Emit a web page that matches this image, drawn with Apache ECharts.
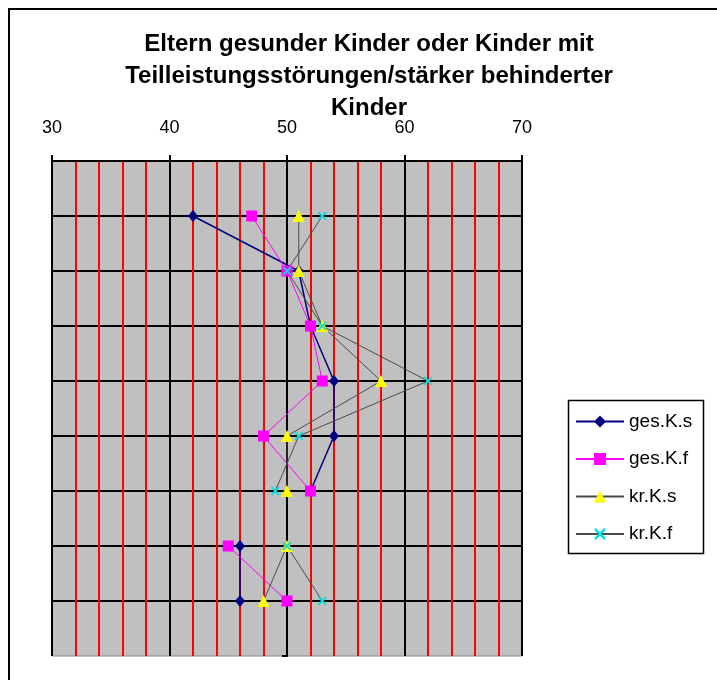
<!DOCTYPE html>
<html>
<head>
<meta charset="utf-8">
<script src="https://cdn.jsdelivr.net/npm/echarts@6/dist/echarts.min.js"></script>
<style>
  html, body { margin: 0; padding: 0; background: #fff; }
  #chart { width: 717px; height: 680px; }
</style>
</head>
<body>
<div id="chart"></div>
<script>
// Rows (top to bottom) and the score of each group per row
const rows = [1, 2, 3, 4, 5, 6, 7, 8];
const gapAfterRow = 6;           // the lines are interrupted between row 6 and row 7
const gesKs = [42, 51, 52, 54, 54, 52, 46, 46];
const gesKf = [47, 50, 52, 53, 48, 52, 45, 50];
const krKs  = [51, 51, 53, 58, 50, 50, 50, 48];
const krKf  = [53, 50, 53, 62, 51, 49, 50, 53];
const seriesNames = ['ges.K.s', 'ges.K.f', 'kr.K.s', 'kr.K.f'];
const xTicks = { min: 30, max: 70, step: 10 };

const titleText = 'Eltern gesunder Kinder oder Kinder mit\nTeilleistungsstörungen/stärker behinderter\nKinder';

function toPoints(values) {
  const pts = [];
  values.forEach((v, i) => {
    pts.push([v, rows[i]]);
    if (rows[i] === gapAfterRow) pts.push(['-', '-']);
  });
  return pts;
}

// thin "x" marker
const crossPath = 'path://M0,1.4L1.4,0L5,3.6L8.6,0L10,1.4L6.4,5L10,8.6L8.6,10L5,6.4L1.4,10L0,8.6L3.6,5Z';

function lineSeries(name, values, lineColor, lineWidth, symbol, symbolSize, markColor) {
  return {
    name: name,
    type: 'line',
    data: toPoints(values),
    connectNulls: false,
    symbol: symbol,
    symbolSize: symbolSize,
    showAllSymbol: true,
    lineStyle: { color: lineColor, width: lineWidth },
    itemStyle: { color: markColor, borderWidth: 0 },
    emphasis: { disabled: true },
    z: 3
  };
}

const chart = echarts.init(document.getElementById('chart'), null, { renderer: 'canvas' });

chart.setOption({
  animation: false,
  backgroundColor: '#ffffff',
  title: {
    text: titleText,
    left: 364,
    top: 23,
    textAlign: 'center',
    textStyle: {
      fontFamily: '"Liberation Sans", Arial, sans-serif',
      fontWeight: 'bold',
      fontSize: 24,
      lineHeight: 32,
      color: '#000'
    }
  },
  grid: {
    left: 52, right: 195, top: 161, bottom: 24,
    show: true,
    backgroundColor: '#c0c0c0',
    borderColor: '#8a8a8a',
    borderWidth: 1
  },
  legend: {
    orient: 'vertical',
    left: 575,
    top: 412,
    padding: 0,
    itemWidth: 48,
    itemHeight: 15,
    itemGap: 18.5,
    itemStyle: { borderWidth: 0 },
    data: seriesNames,
    textStyle: {
      fontFamily: '"Liberation Sans", Arial, sans-serif',
      fontSize: 19,
      lineHeight: 19,
      color: '#000'
    }
  },
  xAxis: {
    type: 'value',
    position: 'top',
    min: xTicks.min,
    max: xTicks.max,
    interval: xTicks.step,
    axisLine: { show: true, lineStyle: { color: '#000', width: 2 } },
    axisTick: { show: true, length: 6, lineStyle: { color: '#000', width: 2 } },
    axisLabel: {
      margin: 24,
      fontFamily: '"Liberation Sans", Arial, sans-serif',
      fontSize: 18,
      color: '#000'
    },
    splitLine: { show: true, lineStyle: { color: '#000', width: 2 } },
    minorTick: { show: false, splitNumber: 5 },
    minorSplitLine: { show: true, lineStyle: { color: '#ff0000', width: 2 } }
  },
  yAxis: {
    type: 'value',
    inverse: true,
    min: 0,
    max: 9,
    interval: 1,
    offset: -235,
    axisLine: { show: true, lineStyle: { color: '#000', width: 2 } },
    axisTick: { show: true, length: 5, lineStyle: { color: '#000', width: 2 } },
    axisLabel: { show: false },
    splitLine: { show: true, showMaxLine: false, lineStyle: { color: '#000', width: 2 } }
  },
  graphic: [
    {
      type: 'rect',
      shape: { x: 9, y: 9, width: 800, height: 800 },
      style: { fill: 'none', stroke: '#000', lineWidth: 2 },
      silent: true,
      z: 0
    },
    {
      type: 'rect',
      shape: { x: 568.5, y: 400.5, width: 135, height: 153 },
      style: { fill: 'none', stroke: '#000', lineWidth: 1.5 },
      silent: true
    }
  ],
  series: [
    lineSeries(seriesNames[0], gesKs, '#000080', 1.5, 'diamond', [10, 12], '#000080'),
    lineSeries(seriesNames[1], gesKf, '#ff00ff', 1, 'rect', 11, '#ff00ff'),
    lineSeries(seriesNames[2], krKs, '#4a4a4a', 1, 'triangle', 12, '#ffff00'),
    lineSeries(seriesNames[3], krKf, '#4a4a4a', 1, crossPath, 9, '#00e0e0')
  ]
});
</script>
</body>
</html>
